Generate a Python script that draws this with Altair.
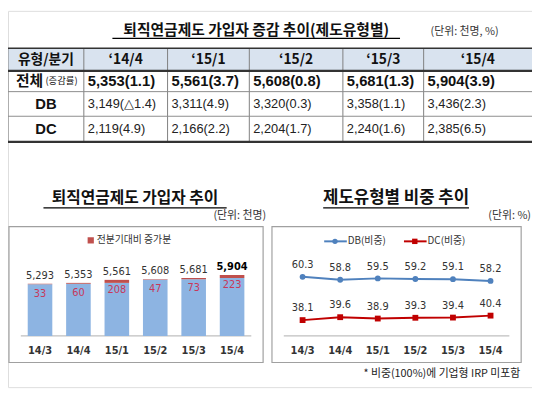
import altair as alt
import pandas as pd

# ---------------- data ----------------
tbl_quarters = ["‘14/4", "‘15/1", "‘15/2", "‘15/3", "‘15/4"]
tbl_total = [5353, 5561, 5608, 5681, 5904]
tbl_total_rate = [1.1, 3.7, 0.8, 1.3, 3.9]
tbl_db = [3149, 3311, 3320, 3358, 3436]
tbl_db_rate = [-1.4, 4.9, 0.3, 1.1, 2.3]
tbl_dc = [2119, 2166, 2204, 2240, 2385]
tbl_dc_rate = [4.9, 2.2, 1.7, 1.6, 6.5]

quarters = ["14/3", "14/4", "15/1", "15/2", "15/3", "15/4"]
bar_total = [5293, 5353, 5561, 5608, 5681, 5904]
bar_inc = [33, 60, 208, 47, 73, 223]

db_share = [60.3, 58.8, 59.5, 59.2, 59.1, 58.2]
dc_share = [38.1, 39.6, 38.9, 39.3, 39.4, 40.4]

KR = "Noto Sans CJK KR"
NUM = "Liberation Sans"
NARROW = "Liberation Sans Narrow, Arial Narrow, Liberation Sans"


def fmt(v, r):
    rs = f"△{abs(r)}" if r < 0 else f"{r}"
    return f"{v:,}({rs})"


# ---------------- table ----------------
XT = alt.Scale(domain=[0, 1, 2, 3, 4, 5, 6], range=[0, 77, 162, 245, 340, 422, 532], nice=False, zero=False)
YT = alt.Scale(domain=[0, 1, 2, 3, 4], range=[38, 61, 82, 107, 133], nice=False, zero=False)


def tx(f):
    return alt.X(f, type="quantitative", scale=XT, axis=None)


def ty(f):
    return alt.Y(f, type="quantitative", scale=YT, axis=None)


head_fill = alt.Chart(pd.DataFrame({"c": [0], "c2": [6], "r": [0], "r2": [1]})).mark_rect(
    color="#D9E3EF").encode(x=tx("c"), x2="c2", y=ty("r"), y2="r2")

vlines = alt.Chart(pd.DataFrame({"c": [0, 1, 2, 3, 4, 5], "r": [0] * 6, "r2": [4] * 6})).mark_rule(
    color="#7F7F7F", strokeWidth=1).encode(x=tx("c"), y=ty("r"), y2="r2")

hl_gray = alt.Chart(pd.DataFrame({"r": [2, 3], "c": [0, 0], "c2": [6, 6]})).mark_rule(
    color="#8C8C8C", strokeWidth=1).encode(y=ty("r"), x=tx("c"), x2="c2")
hl_top = alt.Chart(pd.DataFrame({"r": [0], "c": [0], "c2": [6]})).mark_rule(
    color="#333333", strokeWidth=1.5).encode(y=ty("r"), x=tx("c"), x2="c2")
hl_dark = alt.Chart(pd.DataFrame({"r": [1, 4], "c": [0, 0], "c2": [6, 6]})).mark_rule(
    color="#333333", strokeWidth=2.2).encode(y=ty("r"), x=tx("c"), x2="c2")

head_df = pd.DataFrame({"c": [0.5 + i for i in range(6)], "r": [0.5] * 6,
                        "t": ["유형/분기"] + tbl_quarters})
head_txt = alt.Chart(head_df).mark_text(font=KR, fontSize=14, fontWeight="bold", color="#111").encode(
    x=tx("c"), y=ty("r"), text="t:N")

lab_df = pd.DataFrame({"c": [0.5, 0.5], "r": [2.5, 3.5], "t": ["DB", "DC"]})
lab_txt = alt.Chart(lab_df).mark_text(font=NUM, fontSize=15, fontWeight="bold", color="#111").encode(
    x=tx("c"), y=ty("r"), text="t:N")
tot_lab1 = alt.Chart(pd.DataFrame({"c": [0], "r": [1.5], "t": ["전체"]})).mark_text(
    font=KR, fontSize=15, fontWeight="bold", color="#111", align="left", dx=8).encode(
    x=tx("c"), y=ty("r"), text="t:N")
tot_lab2 = alt.Chart(pd.DataFrame({"c": [0], "r": [1.5], "t": ["(증감률)"]})).mark_text(
    font=KR, fontSize=9.5, color="#111", align="left", dx=38).encode(
    x=tx("c"), y=ty("r"), text="t:N")

tot_df = pd.DataFrame({"c": [1 + i for i in range(5)], "r": [1.5] * 5,
                       "t": [fmt(v, r) for v, r in zip(tbl_total, tbl_total_rate)]})
tot_txt = alt.Chart(tot_df).mark_text(font=NUM, fontSize=15, fontWeight="bold", color="#111",
                                      align="left", dx=4).encode(x=tx("c"), y=ty("r"), text="t:N")

sub_df = pd.DataFrame({"c": [1 + i for i in range(5)] * 2, "r": [2.5] * 5 + [3.5] * 5,
                       "t": [fmt(v, r) for v, r in zip(tbl_db, tbl_db_rate)] +
                            [fmt(v, r) for v, r in zip(tbl_dc, tbl_dc_rate)]})
sub_txt = alt.Chart(sub_df).mark_text(font=NARROW, fontSize=13, color="#222",
                                      align="left", dx=4).encode(x=tx("c"), y=ty("r"), text="t:N")

table = alt.layer(head_fill, vlines, hl_gray, hl_top, hl_dark, head_txt, lab_txt,
                  tot_lab1, tot_lab2, tot_txt, sub_txt)

# ---------------- bar chart ----------------
XB = alt.Scale(domain=quarters, range=[13, 247], paddingInner=0.36, paddingOuter=0.18)
YB = alt.Scale(domain=[1700, 8350], range=[330, 232], nice=False, zero=False, clamp=True)

bar_df = pd.DataFrame({"q": quarters, "total": bar_total, "inc": bar_inc})
bar_df["base"] = bar_df["total"] - bar_df["inc"]
bar_df["lab"] = [f"{v:,}" for v in bar_total]

bx = alt.X("q:N", scale=XB, axis=None, sort=quarters)
bbase = alt.Chart(bar_df)
blue = bbase.mark_bar(color="#8DB4E2").encode(
    x=bx, y=alt.Y("base:Q", scale=YB, axis=None), y2=alt.datum(1700))
red = bbase.mark_bar(color="#C0504D").encode(
    x=bx, y=alt.Y("base:Q", scale=YB, axis=None), y2="total:Q")
tot_lbl = bbase.transform_filter(alt.datum.q != "15/4").mark_text(
    font="DejaVu Sans", fontSize=10, color="#333", dy=-8).encode(
    x=bx, y=alt.Y("total:Q", scale=YB, axis=None), text="lab:N")
tot_lbl_last = bbase.transform_filter(alt.datum.q == "15/4").mark_text(
    font="DejaVu Sans", fontSize=10, fontWeight="bold", color="#000", dy=-8).encode(
    x=bx, y=alt.Y("total:Q", scale=YB, axis=None), text="lab:N")
inc_lbl = bbase.mark_text(font="DejaVu Sans", fontSize=10, color="#C8385A", dy=10).encode(
    x=bx, y=alt.Y("total:Q", scale=YB, axis=None), text="inc:Q")
bx_lbl = bbase.mark_text(font="DejaVu Sans", fontSize=10, fontWeight="bold", color="#333").encode(
    x=bx, y=alt.value(345), text="q:N")

bars = alt.layer(blue, red, tot_lbl, tot_lbl_last, inc_lbl, bx_lbl)

# ---------------- line chart ----------------
XL = alt.Scale(type="point", domain=quarters, range=[280, 509], padding=0.5)
YL = alt.Scale(domain=[30, 80], range=[330, 231], nice=False, zero=False)

db_df = pd.DataFrame({"q": quarters, "v": db_share})
dc_df = pd.DataFrame({"q": quarters, "v": dc_share})
lx = alt.X("q:N", scale=XL, axis=None, sort=quarters)
ly = alt.Y("v:Q", scale=YL, axis=None)

db_line = alt.Chart(db_df).mark_line(color="#4F81BD", strokeWidth=2).encode(x=lx, y=ly)
db_pt = alt.Chart(db_df).mark_point(shape="circle", filled=True, color="#4F81BD", size=35, opacity=1).encode(x=lx, y=ly)
db_txt = alt.Chart(db_df).mark_text(font="DejaVu Sans", fontSize=10, color="#333", dy=-12).encode(
    x=lx, y=ly, text=alt.Text("v:Q", format=".1f"))
dc_line = alt.Chart(dc_df).mark_line(color="#C00000", strokeWidth=2).encode(x=lx, y=ly)
dc_pt = alt.Chart(dc_df).mark_point(shape="square", filled=True, color="#C00000", size=35, opacity=1).encode(x=lx, y=ly)
dc_txt = alt.Chart(dc_df).mark_text(font="DejaVu Sans", fontSize=10, color="#333", dy=-12).encode(
    x=lx, y=ly, text=alt.Text("v:Q", format=".1f"))
lx_lbl = alt.Chart(db_df).mark_text(font="DejaVu Sans", fontSize=10, fontWeight="bold", color="#333").encode(
    x=lx, y=alt.value(345), text="q:N")

lines = alt.layer(db_line, dc_line, db_pt, dc_pt, db_txt, dc_txt, lx_lbl)


# ---------------- decorations ----------------
def txt(t, x, y, size, weight="normal", align="center", color="#111", font=KR):
    return alt.Chart(pd.DataFrame({"t": [t]})).mark_text(
        font=font, fontSize=size, fontWeight=weight, align=align, baseline="middle", color=color).encode(
        x=alt.value(x), y=alt.value(y), text="t:N")


def hrule(x1, x2, y, color="#000", w=1.0):
    return alt.Chart(pd.DataFrame({"a": [0]})).mark_rule(color=color, strokeWidth=w).encode(
        x=alt.value(x1), x2=alt.value(x2), y=alt.value(y))


def frame(x1, x2, y1, y2):
    return alt.Chart(pd.DataFrame({"a": [0]})).mark_rect(
        fill="white", stroke="#A0A0A0", strokeWidth=1.2).encode(
        x=alt.value(x1), x2=alt.value(x2), y=alt.value(y1), y2=alt.value(y2))


deco_back = alt.layer(
    frame(1, 259, 219, 357),
    frame(268, 521, 219, 357),
    hrule(13, 247, 330, "#BFBFBF", 1.2),
    hrule(280, 509, 330, "#BFBFBF", 1.2),
)

legend_red = alt.Chart(pd.DataFrame({"a": [0]})).mark_square(color="#C0504D", size=40, opacity=1).encode(
    x=alt.value(84), y=alt.value(233))
leg_db_pt = alt.Chart(pd.DataFrame({"a": [0]})).mark_point(shape="circle", filled=True, color="#4F81BD", size=30, opacity=1).encode(
    x=alt.value(332), y=alt.value(234))
leg_dc_pt = alt.Chart(pd.DataFrame({"a": [0]})).mark_point(shape="square", filled=True, color="#C00000", size=30, opacity=1).encode(
    x=alt.value(413), y=alt.value(234))

deco_front = alt.layer(
    txt("퇴직연금제도 가입자 증감 추이(제도유형별)", 252, 20, 15, "bold"),
    hrule(106, 398, 28, "#000", 1.2),
    txt("(단위: 천명, %)", 429, 22, 11, align="left", color="#333"),
    txt("퇴직연금제도 가입자 추이", 129, 190, 16, "bold"),
    hrule(36, 222, 200, "#000", 1.2),
    txt("(단위: 천명)", 262, 208, 11, align="right", color="#333"),
    txt("제도유형별 비중 추이", 394, 190, 17, "bold"),
    hrule(320, 468, 200, "#000", 1.2),
    txt("(단위: %)", 531, 208, 11, align="right", color="#333"),
    legend_red,
    txt("전분기대비 증가분", 90, 233, 10, align="left", color="#333"),
    hrule(321, 344, 234, "#4F81BD", 2),
    leg_db_pt,
    txt("DB(비중)", 345, 234, 10, align="left", color="#333"),
    hrule(402, 425, 234, "#C00000", 2),
    leg_dc_pt,
    txt("DC(비중)", 426, 234, 10, align="left", color="#333"),
    txt("* 비중(100%)에 기업형 IRP 미포함", 520, 369, 11, align="right", color="#222"),
)

chart = alt.layer(deco_back, table, bars, lines, deco_front).resolve_scale(
    x="independent", y="independent"
).properties(
    width=532, height=382, padding=0, autosize=alt.AutoSizeParams(type="none")
).configure_view(stroke=None).configure(background="white")

chart.save("out.html", embed_options={"renderer": "svg", "actions": False})
